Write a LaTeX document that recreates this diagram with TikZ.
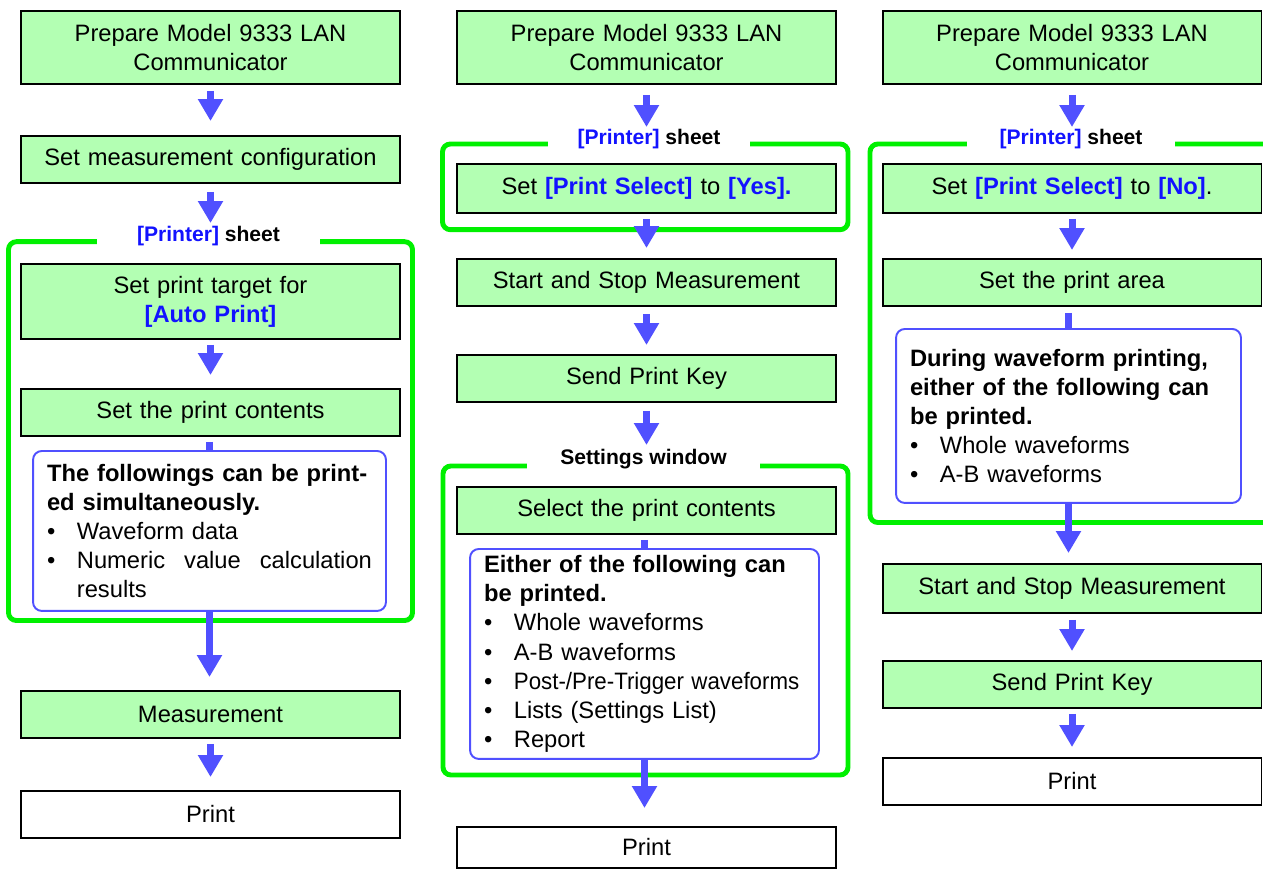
\documentclass[tikz,border=0pt]{standalone}
\usepackage{fontspec}
\setmainfont{Liberation Sans}
\usepackage{graphicx}
\usetikzlibrary{positioning,arrows.meta}
\definecolor{ink}      {HTML}{000000}
\definecolor{stepfill} {HTML}{B3FFB3}
\definecolor{grpgreen} {HTML}{00F000}
\definecolor{flowblue} {HTML}{5050FF}
\definecolor{keyblue}  {HTML}{1212FF}
\newcommand{\keyname}[1]{\textcolor{keyblue}{\textbf{#1}}}
\newcommand{\itm}[1]{\par\noindent\makebox[17pt][l]{\textbullet}%
  \parbox[t]{\dimexpr\hsize-17pt\relax}{\baselineskip=16.6pt #1}}
\tikzset{
  every node/.style={font=\fontsize{13.5}{16.4}\selectfont},
  % --- nodes
  stepbox/.style = {draw=ink, line width=1.1pt, fill=stepfill, align=center,
                    text width=7.2cm, minimum width=7.58cm, minimum height=0.94cm,
                    inner sep=0pt, anchor=north},
  twoline/.style = {stepbox, minimum height=1.46cm},
  endbox/.style  = {stepbox, fill=white},
  notebox/.style = {draw=flowblue, line width=1.1pt, fill=white, rounded corners=5pt,
                    align=left, inner xsep=0.28cm, inner ysep=2pt, anchor=north,
                    font=\fontsize{13.5}{16.6}\selectfont},
  grplbl/.style  = {fill=white, inner sep=1pt, font=\fontsize{12}{14}\selectfont\bfseries},
  % --- brackets
  grp/.style     = {draw=grpgreen, line width=2.8pt, rounded corners=4.5pt},
}
\begin{document}
\begin{tikzpicture}[x=0.02cm, y=-0.02cm,
  arr/.style={draw=flowblue, line width=4pt, -{Triangle[length=12.5pt,width=13.6pt]}},
  stub/.style={draw=flowblue, line width=4pt},
]
  \useasboundingbox (0,0) rectangle (1263,868);
  \clip (0,0) rectangle (1263,868);
  % groups
  \draw[grp] (8.5,241.7) rectangle (412.5,620.5);
  \draw[grp] (442.5,144) rectangle (848,229.7);
  \draw[grp] (443,466) rectangle (848,775);
  \draw[grp] (870,144) rectangle (1320,522.5);

  % left column
  \node[twoline] (a1) at (210.5,10) {Prepare Model 9333 LAN\\Communicator};
  \node[stepbox] (a2) at (210.5,135) {Set measurement configuration};
  \node[grplbl, minimum width=4.46cm] (p1) at (208.5,236) {\keyname{[Printer]} sheet};
  \node[twoline, minimum height=1.5cm] (a3) at (210.5,263) {Set print target for\\\keyname{[Auto Print]}};
  \node[stepbox] (a4) at (210.5,388) {Set the print contents};
  \node[notebox, text width=6.5cm, minimum height=3.2cm] (n1) at (209.5,450)
    {{\bfseries The followings can be print-\\ed simultaneously.\par}
     \itm{Waveform data}
     \itm{Numeric\hfill value\hfill calculation\\results}};
  \node[stepbox] (a5) at (210.5,690) {Measurement};
  \node[endbox] (a6) at (210.5,790) {Print};

  % middle column
  \node[twoline] (b1) at (646.5,10) {Prepare Model 9333 LAN\\Communicator};
  \node[grplbl, minimum width=4.04cm] (p2) at (649,139) {\keyname{[Printer]} sheet};
  \node[stepbox, minimum height=0.98cm] (b2) at (646.5,163) {Set \keyname{[Print Select]} to \keyname{[Yes].}};
  \node[stepbox] (b3) at (646.5,258) {Start and Stop Measurement};
  \node[stepbox] (b4) at (646.5,354) {Send Print Key};
  \node[grplbl, minimum width=4.66cm] (s1) at (643.5,459) {Settings window};
  \node[stepbox] (b5) at (646.5,486) {Select the print contents};
  \node[notebox, text width=6.42cm, minimum height=4.2cm] (n2) at (644.5,548)
    {{\bfseries Either of the following can\\be printed.\par}
     \itm{Whole waveforms}
     \itm{A-B waveforms}
     \itm{\scalebox{0.94}[1]{Post-/Pre-Trigger waveforms}}
     \itm{Lists (Settings List)}
     \itm{Report}};
  \node[endbox, minimum height=0.82cm] (b6) at (646.5,826) {Print};

  % right column
  \node[twoline] (c1) at (1072,10) {Prepare Model 9333 LAN\\Communicator};
  \node[grplbl, minimum width=4.16cm] (p3) at (1071,139) {\keyname{[Printer]} sheet};
  \node[stepbox, minimum height=0.98cm] (c2) at (1072,163) {Set \keyname{[Print Select]} to \keyname{[No]}.};
  \node[stepbox] (c3) at (1072,258) {Set the print area};
  \node[notebox, text width=6.34cm, minimum height=3.48cm] (n3) at (1068.5,328)
    {{\bfseries During waveform printing,\\either of the following can\\be printed.\par}
     \itm{Whole waveforms}
     \itm{A-B waveforms}};
  \node[stepbox, minimum height=0.98cm] (c4) at (1072,563) {Start and Stop Measurement};
  \node[stepbox] (c5) at (1072,660) {Send Print Key};
  \node[endbox] (c6) at (1072,757) {Print};

  % flow
  \draw[arr, shorten <=0.12cm, shorten >=0.28cm] (a1) -- (a2);
  \draw[arr, shorten <=0.16cm, shorten >=0.26cm] (a2) -- (a2 |- p1.center);
  \draw[arr, shorten <=0.1cm, shorten >=0.26cm] (a3) -- (a4);
  \draw[stub, shorten <=0.1cm] (a4.south -| n1) -- (n1);
  \draw[arr, shorten >=0.26cm] (n1) -- (n1 |- a5.north);
  \draw[arr, shorten <=0.1cm, shorten >=0.26cm] (a5) -- (a6);

  \draw[arr, shorten <=0.2cm, shorten >=0.24cm] (b1) -- (b1 |- p2.center);
  \draw[arr, shorten <=0.1cm, shorten >=0.2cm] (b2) -- (b3);
  \draw[arr, shorten <=0.14cm, shorten >=0.18cm] (b3) -- (b4);
  \draw[arr, shorten <=0.16cm, shorten >=0.28cm] (b4) -- (b4 |- s1.center);
  \draw[stub, shorten <=0.1cm] (b5.south -| n2) -- (n2);
  \draw[arr, shorten >=0.36cm] (n2) -- (n2 |- b6.north);

  \draw[arr, shorten <=0.2cm, shorten >=0.24cm] (c1) -- (c1 |- p3.center);
  \draw[arr, shorten <=0.1cm, shorten >=0.16cm] (c2) -- (c3);
  \draw[stub, shorten <=0.12cm] (c3.south -| n3) -- (n3);
  \draw[arr, shorten >=0.2cm] (n3) -- (n3 |- c4.north);
  \draw[arr, shorten <=0.12cm, shorten >=0.18cm] (c4) -- (c5);
  \draw[arr, shorten <=0.1cm, shorten >=0.2cm] (c5) -- (c6);
\end{tikzpicture}
\end{document}
